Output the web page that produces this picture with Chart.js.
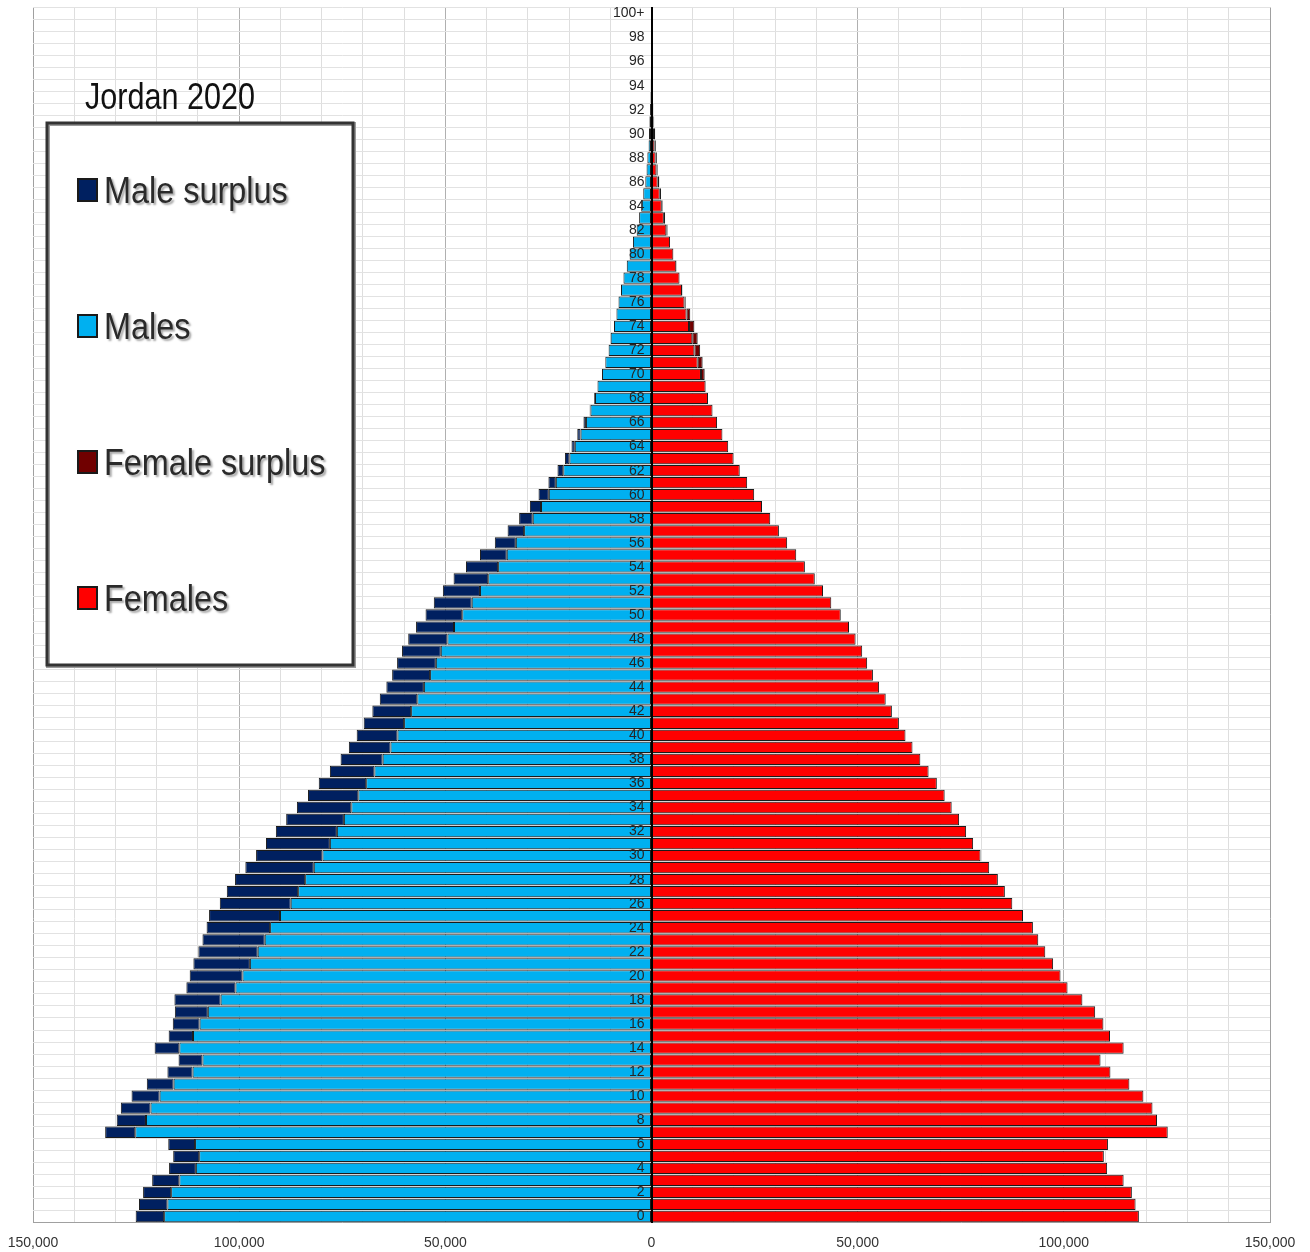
<!DOCTYPE html>
<html>
  <head>
    <title>Jordan 2020 - population pyramid</title>
    <meta charset="UTF-8">
    <style>
      html, body {
        margin: 0;
        padding: 0;
        background: #fff;
      }
      .canvas {
        width: 1310px;
        height: 1252px;
        position: relative;
      }
    </style>
  </head>
  <body>
    <div class="canvas">
      <canvas id="canvas"></canvas>
    </div>
    <script src="https://cdn.jsdelivr.net/npm/chart.js@4.4.1/dist/chart.umd.min.js"></script>
    <script>
    var chartTitle = 'Jordan 2020';

    // age groups, bottom to top
    var ages = [];
    for (var a = 0; a < 100; a++) {
        ages.push(String(a));
    }
    ages.push('100+');

    // population by single year of age
    var males = [
        125100, 124300, 123300, 121100, 117000, 116000, 117200, 132500, 129700, 128700,
        126100, 122400, 117400, 114700, 120500, 117100, 116100, 115600, 115700, 112800,
        112000, 111100, 109900, 108900, 107900, 107300, 104700, 103000, 101000, 98500,
        95900, 93500, 91100, 88600, 86000, 83300, 80700, 78000, 75400, 73400,
        71500, 69800, 67700, 65900, 64300, 62900, 61700, 60500, 59000, 57100,
        54800, 52800, 50600, 48000, 45000, 41600, 38000, 34900, 32100, 29500,
        27400, 25000, 22800, 21000, 19400, 18000, 16500, 15000, 13900, 13100,
        12000, 11200, 10400, 9900, 9100, 8500, 8000, 7400, 6800, 6000,
        5300, 4500, 3600, 3000, 2500, 2000, 1500, 1200, 1000, 700,
        600, 500, 350, 250, 200, 150, 100, 70, 50, 30,
        20
    ];
    var females = [
        118200, 117400, 116500, 114500, 110500, 109700, 110700, 125200, 122600, 121500,
        119300, 115900, 111300, 108900, 114500, 111200, 109600, 107600, 104500, 100900,
        99200, 97400, 95500, 93800, 92500, 90100, 87500, 85700, 84000, 81900,
        79800, 78000, 76300, 74600, 72800, 71100, 69200, 67200, 65200, 63300,
        61600, 60000, 58300, 56800, 55200, 53700, 52300, 51100, 49500, 47900,
        45900, 43600, 41600, 39600, 37200, 35100, 32900, 30900, 28800, 26800,
        24900, 23200, 21400, 19900, 18600, 17200, 15900, 14800, 13700, 13200,
        12900, 12400, 11800, 11200, 10400, 9400, 8300, 7500, 6800, 6100,
        5300, 4500, 3900, 3300, 2700, 2300, 1900, 1500, 1300, 1050,
        900, 650, 450, 300, 250, 200, 150, 100, 70, 50,
        30
    ];

    var seriesNames = ['Male surplus', 'Males', 'Female surplus', 'Females'];
    var seriesColors = ['#002060', '#00b0f0', '#700000', '#ff0000'];

    // split into the common part and the surplus on each side
    var malesBase = [], maleSurplus = [], femalesBase = [], femaleSurplus = [];
    for (var i = 0; i < ages.length; i++) {
        var m = males[i], f = females[i];
        malesBase.push(-Math.min(m, f));
        maleSurplus.push(-Math.max(0, m - f));
        femalesBase.push(Math.min(m, f));
        femaleSurplus.push(Math.max(0, f - m));
    }

    var labelFont = '"Liberation Sans", Arial, sans-serif';

    function drawScaledText(ctx, text, x, y, sx) {
        ctx.save();
        ctx.translate(x, y);
        ctx.scale(sx, 1);
        ctx.fillText(text, 0, 0);
        ctx.restore();
    }

    // title and the boxed legend in the upper left corner
    var legendBox = {
        id: 'legendBox',
        afterDraw: function (chart) {
            var ctx = chart.ctx;
            ctx.save();
            ctx.textBaseline = 'alphabetic';
            ctx.textAlign = 'left';

            ctx.fillStyle = '#111';
            ctx.font = '36px ' + labelFont;
            drawScaledText(ctx, chartTitle, 85, 109, 0.85);

            // box
            ctx.fillStyle = '#fff';
            ctx.fillRect(47, 123, 306, 542);
            ctx.lineWidth = 4;
            ctx.strokeStyle = '#9a9a9a';
            ctx.strokeRect(48, 124, 306, 542);
            ctx.lineWidth = 3;
            ctx.strokeStyle = '#333';
            ctx.strokeRect(47, 123, 306, 542);

            ctx.font = '36px ' + labelFont;
            for (var k = 0; k < seriesNames.length; k++) {
                var cy = 190 + k * 136;
                ctx.shadowColor = 'transparent';
                ctx.fillStyle = seriesColors[k];
                ctx.fillRect(78, cy - 11, 19, 22);
                ctx.lineWidth = 2;
                ctx.strokeStyle = '#1a1a1a';
                ctx.strokeRect(78, cy - 11, 19, 22);

                ctx.shadowColor = 'rgba(0,0,0,0.35)';
                ctx.shadowOffsetX = 2;
                ctx.shadowOffsetY = 2;
                ctx.shadowBlur = 2;
                ctx.fillStyle = '#2a2a2a';
                drawScaledText(ctx, seriesNames[k], 104, cy + 13, 0.9);
            }
            ctx.restore();
        }
    };

    var barStyle = {
        borderColor: '#1a1a1a',
        borderWidth: 1,
        borderSkipped: false,
        barPercentage: 0.94,
        categoryPercentage: 1.0
    };

    var ctx = document.getElementById('canvas').getContext('2d');
    var chart = new Chart(ctx, {
        type: 'bar',
        data: {
            labels: ages,
            datasets: [
                Object.assign({ label: seriesNames[1], data: malesBase, backgroundColor: seriesColors[1] }, barStyle),
                Object.assign({ label: seriesNames[0], data: maleSurplus, backgroundColor: seriesColors[0] }, barStyle),
                Object.assign({ label: seriesNames[3], data: femalesBase, backgroundColor: seriesColors[3] }, barStyle),
                Object.assign({ label: seriesNames[2], data: femaleSurplus, backgroundColor: seriesColors[2] }, barStyle)
            ]
        },
        options: {
            indexAxis: 'y',
            responsive: true,
            maintainAspectRatio: false,
            animation: false,
            layout: {
                padding: { left: 33, right: 40, top: 7.5, bottom: 0.5 }
            },
            plugins: {
                legend: { display: false },
                tooltip: { enabled: false }
            },
            scales: {
                x: {
                    stacked: true,
                    min: -150000,
                    max: 150000,
                    afterFit: function (s) {
                        s.paddingLeft = 0;
                        s.paddingRight = 0;
                        s.height = 29;
                    },
                    ticks: {
                        stepSize: 10000,
                        autoSkip: false,
                        maxRotation: 0,
                        padding: 12,
                        color: '#333',
                        font: { family: labelFont, size: 14 },
                        callback: function (v) {
                            return v % 50000 === 0 ? Math.abs(v).toLocaleString('en-US') : '';
                        }
                    },
                    grid: {
                        drawTicks: false,
                        color: function (c) {
                            var v = c.tick ? c.tick.value : null;
                            if (v === 0) return 'rgba(0,0,0,0)';
                            if (Math.abs(v) === 150000) return '#a0a0a0';
                            return v % 50000 === 0 ? '#b0b0b0' : '#dedede';
                        }
                    },
                    border: { color: '#a0a0a0' }
                },
                y: {
                    stacked: true,
                    reverse: true,
                    position: { x: 0 },
                    afterFit: function (s) {
                        s.paddingTop = 0;
                        s.paddingBottom = 0;
                    },
                    ticks: {
                        z: 1,
                        autoSkip: false,
                        color: '#262626',
                        font: { family: labelFont, size: 14 },
                        callback: function (val, index) {
                            // en space keeps the label clear of the zero line
                            return index % 2 === 0 ? this.getLabelForValue(val) + '\u2002' : '';
                        }
                    },
                    grid: {
                        drawTicks: false,
                        color: '#e2e2e2'
                    },
                    border: { z: 1, color: '#000', width: 2 }
                }
            }
        },
        plugins: [legendBox]
    });
    </script>
  </body>
</html>
